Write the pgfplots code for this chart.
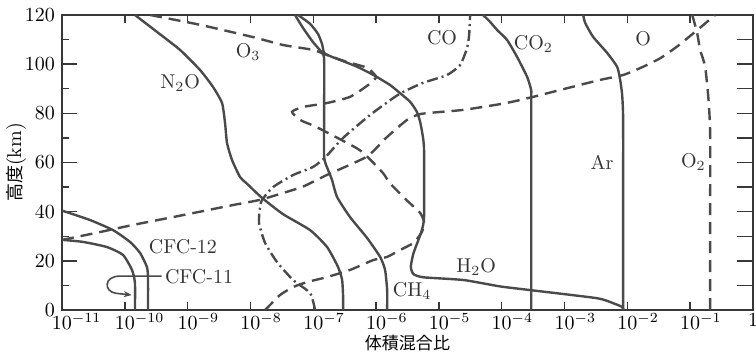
\documentclass[border=0pt]{standalone}
\usepackage{fontspec}
\usepackage{pgfplots}
\pgfplotsset{compat=1.18}
\usetikzlibrary{arrows.meta}
\newfontfamily\jp{Noto Sans CJK JP}
\definecolor{ln}{HTML}{4A4A4A}
\definecolor{ax}{HTML}{383838}
\tikzset{
  sl/.style={ln, line width=1.2pt, smooth, tension=0.35},
  dl/.style={ln, line width=1.2pt, smooth, tension=0.35, dash pattern=on 6pt off 3.5pt},
  ddl/.style={ln, line width=1.2pt, smooth, tension=0.35, dash pattern=on 5.5pt off 2pt on 1pt off 2pt},
}
\begin{document}
\begin{tikzpicture}
\begin{axis}[
  scale only axis, width=345.5pt, height=147.5pt,
  xmode=log, xmin=1e-11, xmax=1, ymin=0, ymax=120,
  xtick={1e-11,1e-10,1e-9,1e-8,1e-7,1e-6,1e-5,1e-4,1e-3,1e-2,1e-1,1},
  xticklabels={$10\rlap{$^{-11}$}$,$10\rlap{$^{-10}$}$,$10\rlap{$^{-9}$}$,$10\rlap{$^{-8}$}$,$10\rlap{$^{-7}$}$,$10\rlap{$^{-6}$}$,$10\rlap{$^{-5}$}$,$10\rlap{$^{-4}$}$,$10\rlap{$^{-3}$}$,$10\rlap{$^{-2}$}$,$10\rlap{$^{-1}$}$,$1$},
  xminorticks=false,
  ytick={0,20,...,120}, minor ytick={10,30,...,110},
  tick align=inside, xtick pos=both, ytick pos=left,
  axis line style={ax, line width=0.8pt},
  every tick/.style={ax, line width=0.7pt},
  major tick length=7.5pt, minor tick length=3.5pt,
  xtick style={/pgfplots/major tick length=4pt},
  xticklabel style={inner sep=1.5pt},
  xlabel={\fontsize{8.5}{9.5}\selectfont\jp 体積混合比},
  ylabel={{\fontsize{9}{10}\selectfont\jp 高度}(km)},
  xlabel style={at={(axis description cs:0.5,0)}, anchor=center, yshift=-16.5pt, inner sep=0pt},
  ylabel style={at={(axis description cs:0,0.5)}, anchor=center, yshift=23pt, inner sep=0pt},
  clip=true,
]
% CFC-12
\addplot[sl] coordinates {(2.34e-10,0) (2.34e-10,13) (2.25e-10,17.5) (1.75e-10,23.2) (1.21e-10,27.7) (6.49e-11,32.5) (2.79e-11,36.6) (1.04e-11,40.3) (0.95e-11,40.6)};
% CFC-11
\addplot[sl] coordinates {(1.45e-10,0) (1.45e-10,11) (1.30e-10,16.3) (9.36e-11,22.4) (5.21e-11,25.6) (2.16e-11,27.7) (1.04e-11,28.5) (0.95e-11,28.6)};
% N2O
\addplot[sl] coordinates {(1.45e-10,120) (3.26e-10,113.1) (7.57e-10,105.8) (1.58e-9,97.6) (2.54e-9,90.7) (3.53e-9,84.2) (3.94e-9,76.1) (4.24e-9,67.9) (5.09e-9,61) (6.82e-9,54.1) (8.7e-9,51.5) (1.53e-8,45.6) (3.30e-8,39) (8.9e-8,32.5) (1.66e-7,25.6) (2.48e-7,17.5) (2.88e-7,12.2) (2.99e-7,5) (2.99e-7,0)};
% CH4
\addplot[sl] coordinates {(5.13e-8,120) (6.88e-8,114.7) (9.9e-8,109) (1.38e-7,104.6) (1.49e-7,101.7) (1.49e-7,80) (1.49e-7,62.2) (1.72e-7,57) (1.99e-7,52.9) (2.39e-7,46) (3.85e-7,37.8) (7.19e-7,29.3) (1.16e-6,21.6) (1.39e-6,16.3) (1.50e-6,8.1) (1.50e-6,0)};
% H2O
\addplot[sl] coordinates {(5.73e-8,120) (8.9e-8,116.4) (1.19e-7,112.3) (1.38e-7,108.2) (1.49e-7,104.6) (1.97e-7,103) (2.67e-7,101.7) (4.93e-7,99) (9.08e-7,95.6) (1.67e-6,91.5) (2.41e-6,88.2) (3.48e-6,84.7) (4.44e-6,80.7) (5.02e-6,76.6) (5.5e-6,71.2) (5.8e-6,65.1) (5.8e-6,38) (5.35e-6,32.5) (4.72e-6,28.5) (3.94e-6,23.1) (3.57e-6,17.6) (3.94e-6,14.6) (5.68e-6,13.3) (2.45e-5,12.2) (9.4e-5,9.6) (2.83e-4,8.1) (3.28e-3,4.8) (6.04e-3,2.7) (8.2e-3,1.3) (8.6e-3,0.4)};
% CO2
\addplot[sl] coordinates {(5.06e-5,120) (6.53e-5,117.2) (8.45e-5,113.9) (1.22e-4,109.8) (1.76e-4,102.9) (2.54e-4,94.8) (2.94e-4,89.5) (2.95e-4,85.4) (2.95e-4,40) (2.95e-4,0)};
% Ar
\addplot[sl] coordinates {(1.98e-3,120) (2.13e-3,116.8) (2.85e-3,111.1) (4.76e-3,104.6) (6.88e-3,98.9) (7.68e-3,93.6) (8.26e-3,87.5) (8.57e-3,77.3) (8.57e-3,40) (8.57e-3,0)};
% CO (dash-dot)
\addplot[ddl] coordinates {(1.07e-7,0) (8.9e-8,6.9) (4.77e-8,12.2) (2.65e-8,19.5) (1.71e-8,27.3) (1.37e-8,35.4) (1.42e-8,41.9) (1.53e-8,44.8) (2.29e-8,50) (4.77e-8,54.9) (9.93e-8,58.2) (1.54e-7,62) (2.98e-7,70) (8.0e-7,79.3) (1.87e-6,86.2) (2.69e-6,88.7) (5.6e-6,92.4) (1.35e-5,95.6) (2.18e-5,99.7) (2.81e-5,106.6) (3.03e-5,111.9) (3.14e-5,120)};
% O3 (dashed)
\addplot[dl] coordinates {(2.52e-10,120) (1.58e-9,116) (1.10e-8,111) (3.30e-8,107.8) (9.9e-8,105.8) (1.66e-7,103.7) (3.45e-7,100.9) (7.19e-7,98.5) (1.0e-6,94.8) (7.46e-7,91.5) (3.85e-7,86.7) (1.66e-7,84.2) (6.88e-8,82.6) (4.59e-8,80.6) (6.17e-8,77.3) (1.15e-7,74.3) (4.93e-7,65.8) (7.5e-7,62) (1.29e-6,55.7) (1.67e-6,51.5) (3.12e-6,44.5) (5.02e-6,39.5) (5.8e-6,35.8) (5.35e-6,31.7) (3.94e-6,27.3) (2.41e-6,24.4) (1.50e-6,21.6) (9.0e-7,20.3) (3.85e-7,16.3) (1.66e-7,13.4) (8.1e-8,11.4) (4.84e-8,9.4) (2.96e-8,6.1) (1.84e-8,0.8) (1.71e-8,0)};
% O (dashed)
\addplot[dl] coordinates {(1e-11,28.5) (4.03e-11,31.7) (1.35e-10,34.6) (8.45e-10,38.6) (5.28e-9,42.7) (1.42e-8,44.8) (3.30e-8,47.6) (6.88e-8,50.2) (1.64e-7,54.9) (7.14e-7,62.4) (1.44e-6,70) (3.1e-6,77.3) (5.3e-6,79.8) (2.43e-5,81.4) (1.13e-4,84.1) (2.94e-4,86.5) (1.09e-3,90.2) (3.69e-3,93.6) (8.6e-3,95.6) (1.80e-2,99) (3.33e-2,102.4) (6.14e-2,107.1) (0.113,112.6) (0.232,119.3) (0.25,120)};
% O2 (dashed)
\addplot[dl] coordinates {(0.108,120) (0.129,112.7) (0.144,105.8) (0.173,99) (0.196,85.4) (0.208,72) (0.208,40) (0.208,0)};

% arrow CFC-11
\draw[ln, line width=0.8pt, -{Stealth[length=4pt,width=3pt]}] (axis cs:3.87e-10,13.8) -- (axis cs:8.4e-11,13.8) .. controls (axis cs:4.6e-11,13.8) and (axis cs:4.6e-11,7.5) .. (axis cs:7.2e-11,6.8) -- (axis cs:1.29e-10,6.1);

% labels
\node[ln!70!black] at (axis cs:9.2e-9,105) {O$_3$};
\node[ln!70!black] at (axis cs:7.6e-10,92.4) {N$_2$O};
\node[ln!70!black] at (axis cs:1.12e-5,110.7) {CO};
\node[ln!70!black] at (axis cs:3.2e-4,108.2) {CO$_2$};
\node[ln!70!black] at (axis cs:1.79e-2,110.3) {O};
\node[ln!70!black] at (axis cs:3.97e-3,60.2) {Ar};
\node[ln!70!black] at (axis cs:0.112,60.2) {O$_2$};
\node[ln!70!black] at (axis cs:3.92e-5,17.5) {H$_2$O};
\node[ln!70!black] at (axis cs:3.74e-6,7.7) {CH$_4$};
\node[ln!70!black] at (axis cs:8.4e-10,25.6) {CFC-12};
\node[ln!70!black] at (axis cs:1.52e-9,13.4) {CFC-11};
\end{axis}
\begin{axis}[
  scale only axis, width=345.5pt, height=147.5pt,
  xmode=log, xmin=1e-11, xmax=1, ymin=0, ymax=120,
  xtick=\empty, xminorticks=false,
  ytick={10,20,...,110}, yticklabels={},
  tick align=inside, ytick pos=right,
  axis line style={draw=none},
  every tick/.style={ax, line width=0.7pt},
  major tick length=8pt,
]
\end{axis}
\pgfresetboundingbox
\path[use as bounding box] ([xshift=-31pt,yshift=-21pt]current axis.south west) rectangle ([xshift=1.5pt,yshift=7.5pt]current axis.north east);
\end{tikzpicture}
\end{document}
